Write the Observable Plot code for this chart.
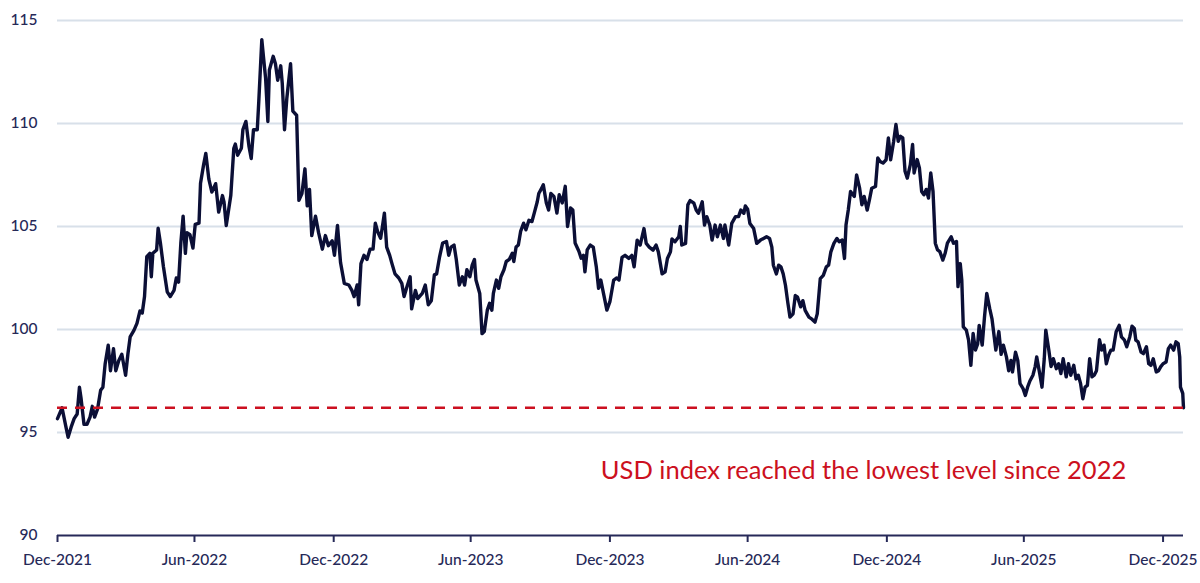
<!DOCTYPE html>
<html>
<head>
<meta charset="utf-8">
<script src="https://cdn.jsdelivr.net/npm/d3@7"></script>
<script src="https://cdn.jsdelivr.net/npm/@observablehq/plot@0.6"></script>
<style>
  html, body { margin: 0; padding: 0; background: #ffffff; }
  #chart svg { display: block; }
</style>
</head>
<body>
<div id="chart"></div>
<script>
// ---- Data ----
// Days elapsed since 31 Dec 2021 for each reading
const startDate = "2021-12-31";
const dayOffset = [
  0,6,11,14,18,22,26,29,31,35,39,43,46,49,53,57,60,63,67,70,74,77,81,85,90,93,96,101,105,109,112,115,118,122,124,126,131,133,136,140,145,149,154,157,160,163,166,169,171,175,179,182,187,189,
  193,196,200,204,209,213,218,220,223,229,233,235,238,243,245,249,253,256,259,264,266,270,272,275,278,280,285,288,291,295,297,300,303,308,311,316,319,323,327,330,333,336,341,345,350,354,358,363,366,370,374,
  379,385,389,392,396,398,401,405,409,413,417,420,423,427,429,432,435,439,442,446,451,455,458,462,466,468,473,476,482,486,490,494,498,501,505,509,514,517,520,524,527,531,535,538,541,545,548,551,553,558,561,564,568,571,574,576,580,583,586,590,593,597,601,603,606,609,612,616,619,623,627,630,634,636,639,642,646,649,652,656,660,663,667,671,674,678,681,684,689,692,695,697,700,704,708,712,715,718,722,726,730,735,739,
  742,746,750,755,759,762,766,770,775,778,782,787,791,794,799,803,806,810,812,816,821,823,825,830,833,836,841,844,847,852,855,858,862,865,869,872,876,880,882,887,891,896,900,903,907,909,912,915,920,924,929,933,937,941,944,946,950,953,956,959,962,965,968,972,975,978,982,985,988,993,997,1001,1004,1008,1012,1016,1019,1022,1026,1030,1033,1037,1040,1042,1045,1048,1053,1056,1060,1063,1066,1070,1073,1076,1081,1084,1087,1091,1095,1098,1101,1105,1108,
  1111,1114,1117,1120,1123,1127,1130,1132,1136,1139,1142,1145,1148,1151,1154,1157,1160,1163,1166,1170,1173,1176,1181,1184,1188,1190,1193,1195,1197,1201,1204,1207,1210,1213,1216,1218,1222,1225,1228,1232,1235,1238,1240,1244,1247,1250,1254,1257,1260,1262,1266,1269,1272,1276,1279,1282,1285,1289,1292,1294,1298,1301,1304,1306,1310,1313,1316,1320,1323,1326,1329,1333,1336,1339,1343,1346,1349,1352,1355,1358,1361,1364,1367,1370,1373,1377,1380,1383,1386,1389,1392,1395,1399,1403,1406,1410,1413,1417,1420,1423,1425,1428,1432,1435,1439,1442,1445,1448,1452,1455,1458,1461,1465,1468,1471,1475,1478,1481,1483,1484,1487,1488
];
// USD index (DXY) level at each reading
const dxy = [
  95.67,96.2,95.3,94.77,95.26,95.67,95.9,97.2,96.7,95.4,95.4,95.75,96.27,95.75,96.15,97.05,97.2,98.34,99.24,98.0,99.07,98.0,98.5,98.8,97.78,98.8,99.64,99.96,100.3,100.9,100.8,101.6,103.54,103.7,102.56,103.7,103.86,104.92,104.2,103.05,101.83,101.6,101.9,102.5,102.3,104.2,105.5,103.7,104.7,104.6,103.95,105.1,105.16,107.1,
  107.98,108.55,107.3,106.67,107.08,105.7,106.5,106.2,105.05,106.5,108.8,109.0,108.46,108.8,109.7,110.1,108.9,108.3,109.7,109.7,111.07,114.07,113.3,112.2,110.1,112.6,113.26,112.9,112.1,112.8,111.96,109.7,111.2,112.9,110.6,110.4,106.27,106.6,107.8,106.0,106.8,104.56,105.5,104.7,103.9,104.56,104.07,104.3,103.6,105.05,103.26,
  102.24,102.16,101.9,101.6,102.16,101.2,103.2,103.6,103.4,103.9,103.9,105.16,104.76,104.43,104.9,105.65,104.0,103.6,103.2,102.7,102.5,102.24,101.6,102.1,102.56,101.0,101.9,101.5,101.75,102.16,101.2,101.4,102.65,102.7,103.54,104.2,104.27,103.6,104.0,104.1,103.4,102.16,102.56,102.16,102.9,102.56,103.13,103.4,102.4,101.75,99.8,99.9,100.94,101.27,100.94,101.75,102.4,102.0,102.56,102.9,103.3,103.4,103.7,103.3,104.0,104.1,104.76,105.16,104.84,105.3,105.24,105.65,106.2,106.6,106.8,107.03,106.14,105.8,106.6,106.46,105.65,106.54,106.14,106.95,105.0,105.9,105.8,104.2,103.8,103.46,103.6,102.8,103.86,104.1,104.0,103.05,102.0,102.4,101.67,100.94,101.35,102.4,102.5,
  102.4,103.5,103.6,103.45,103.6,103.04,104.34,104.1,104.9,104.18,104.0,103.85,104.1,103.77,102.7,102.8,103.45,103.77,104.4,104.26,104.5,105.0,104.1,104.18,106.05,106.26,106.13,105.8,105.64,106.2,105.07,105.48,105.07,104.34,105.07,104.5,105.07,104.42,105.07,104.1,105.15,105.48,105.48,105.8,105.64,106.0,105.84,105.15,104.9,104.18,104.34,104.42,104.5,104.42,104.0,103.12,102.7,103.12,103.04,102.7,102.15,101.33,100.6,100.76,101.65,101.57,101.1,101.4,100.93,100.6,100.5,100.36,100.76,102.47,102.63,103.04,103.12,103.77,104.18,104.42,104.26,104.34,103.45,105.07,105.8,106.7,106.46,107.5,106.86,106.05,106.46,105.8,106.3,106.86,106.94,108.33,108.16,108.08,108.24,109.3,108.24,109.14,109.95,
  109.14,109.38,109.3,107.68,107.35,108.0,108.98,107.6,108.25,107.84,106.7,106.54,106.8,106.38,107.6,106.7,104.19,103.86,103.78,103.37,103.7,104.19,104.5,104.19,104.27,102.08,103.2,102.4,100.13,99.97,99.48,98.26,99.81,99.0,99.3,100.2,99.24,100.6,101.75,101.0,100.5,99.6,99.0,99.9,98.8,99.24,98.67,98.0,98.5,97.94,98.9,98.5,97.37,97.13,96.8,97.2,97.5,97.78,98.2,98.67,97.86,97.2,98.58,99.97,99.0,98.2,98.58,98.1,98.34,97.86,98.58,97.7,98.34,97.78,98.26,97.6,97.78,97.37,96.64,97.2,97.29,98.58,97.7,97.78,98.0,99.5,99.0,99.24,98.34,98.75,99.0,99.0,99.89,100.2,99.64,99.48,99.16,99.64,100.16,100.05,99.48,99.4,98.9,98.83,99.16,98.34,98.26,98.58,97.94,98.0,98.2,98.34,98.42,99.07,99.24,99.0,99.4,99.32,98.67,97.2,96.9,96.2
];
const xTickDates = ["2021-12-31","2022-06-30","2022-12-31","2023-06-30","2023-12-31","2024-06-30","2024-12-31","2025-06-30","2025-12-31"];
const yTicks = [90, 95, 100, 105, 110, 115];
const lowestLevel = [96.2];
const annotation = [{date: "2023-12-19", value: 93.15, label: "USD index reached the lowest level since 2022"}];

// ---- Build ----
const t0 = new Date(startDate);
const series = dayOffset.map((d, i) => ({date: d3.utcDay.offset(t0, d), value: dxy[i]}));
const tEnd = series[series.length - 1].date;

const navy = "#0b0f36";
const axisNavy = "#262958";
const red = "#cc1020";

const chart = Plot.plot({
  width: 1200,
  height: 583,
  marginLeft: 57,
  marginRight: 17,
  marginTop: 20,
  marginBottom: 48,
  style: {fontFamily: "Lato, 'Open Sans', sans-serif", background: "#ffffff", overflow: "visible"},
  x: {type: "utc", domain: [t0, tEnd]},
  y: {domain: [90, 115]},
  marks: [
    Plot.gridY(yTicks.filter(v => v > 90), {stroke: "#d8e0e9", strokeOpacity: 1, strokeWidth: 1.8}),
    Plot.lineY(series, {x: "date", y: "value", stroke: navy, strokeWidth: 3.4, strokeLinejoin: "round"}),
    Plot.ruleY(lowestLevel, {stroke: red, strokeWidth: 2.6, strokeDasharray: "10,8"}),
    Plot.ruleY([90], {stroke: axisNavy, strokeWidth: 2}),
    Plot.axisY({ticks: yTicks, tickSize: 0, tickPadding: 20, fontSize: 15.5, fontWeight: 500, fill: axisNavy, label: null}),
    Plot.axisX({
      ticks: xTickDates.map(d => new Date(d)),
      tickFormat: d3.utcFormat("%b-%Y"),
      tickSize: 7, tickPadding: 11, fontSize: 15.5, fontWeight: 500,
      stroke: axisNavy, strokeWidth: 2, fill: axisNavy, label: null
    }),
    Plot.text(annotation, {
      x: d => new Date(d.date), y: "value", text: "label",
      textAnchor: "start", fill: red, fontSize: 25.5
    })
  ]
});

document.getElementById("chart").appendChild(chart);
</script>
</body>
</html>
